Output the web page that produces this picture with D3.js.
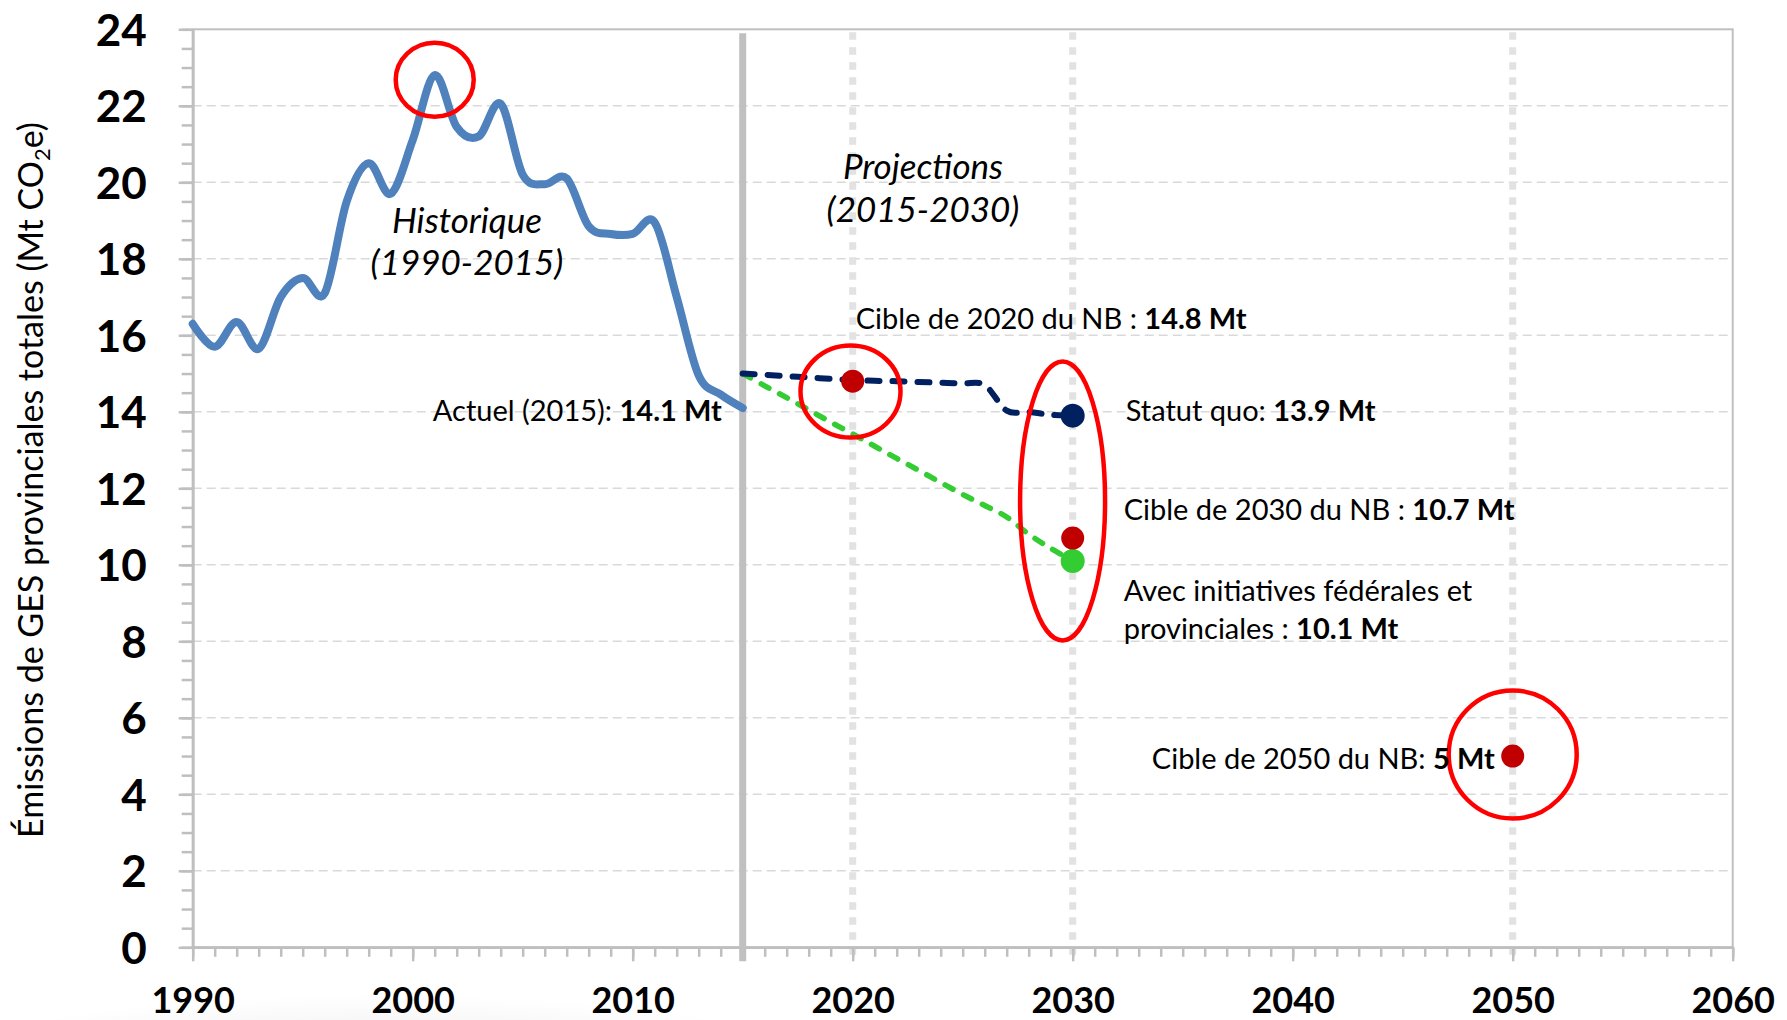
<!DOCTYPE html>
<html>
<head>
<meta charset="utf-8">
<script src="https://cdn.jsdelivr.net/npm/d3@7"></script>
<style>
	body { margin: 0; background: #fff; }
	svg { display: block; font-family: Lato, "Open Sans", sans-serif; }
</style>
</head>
<body>
<script>
// historique 1990-2015 (Mt CO2e)
var histYears = [1990, 1991, 1992, 1993, 1994, 1995, 1996, 1997, 1998, 1999, 2000, 2001, 2002,
	2003, 2004, 2005, 2006, 2007, 2008, 2009, 2010, 2011, 2012, 2013, 2014, 2015];
var histValues = [16.3, 15.7, 16.35, 15.65, 17.0, 17.5, 17.1, 19.5, 20.5, 19.7, 21.1, 22.8, 21.45,
	21.2, 22.05, 20.2, 19.95, 20.1, 18.85, 18.65, 18.65, 18.95, 17.0, 14.95, 14.45, 14.1];

// projections 2015-2030
var projYears = [2015, 2016, 2017, 2018, 2019, 2020, 2021, 2022, 2023, 2024, 2025, 2026, 2027, 2028, 2029, 2030];
var statutQuo = [15.0, 14.97, 14.93, 14.9, 14.86, 14.83, 14.81, 14.8, 14.78, 14.76, 14.74, 14.7, 14.03, 14.0, 13.92, 13.9];
var avecInitiatives = [15.0, 14.68, 14.37, 14.05, 13.73, 13.42, 13.1, 12.78, 12.47, 12.15, 11.84, 11.55, 11.25, 10.8, 10.43, 10.1];

// cibles du NB
var targetYears = [2020, 2030, 2050];
var targetValues = [14.8, 10.7, 5];

var yTicks = [0, 2, 4, 6, 8, 10, 12, 14, 16, 18, 20, 22, 24];
var xTicks = [1990, 2000, 2010, 2020, 2030, 2040, 2050, 2060];
var markerYears = [2020, 2030, 2050];

(function(d3) {
	var width = 1787;
	var height = 1020;
	var left = 192.7, right = 1732.7, top = 29.3, bottom = 947.3;
	var axisGray = "#bfbfbf";
	var font = "Lato, 'Open Sans', sans-serif";

	var svg = d3.select("body").append("svg")
		.attr("width", width)
		.attr("height", height);

	var x = d3.scaleLinear().domain([1990, 2060]).range([left, right]);
	var y = d3.scaleLinear().domain([0, 24]).range([bottom, top]);

	// faint shadow under the bottom-left labels
	var grad = svg.append("defs").append("radialGradient").attr("id", "shade");
	grad.append("stop").attr("offset", "0%").attr("stop-color", "#e2e2e2");
	grad.append("stop").attr("offset", "100%").attr("stop-color", "#ffffff");
	svg.append("ellipse")
		.attr("cx", 380).attr("cy", 1095)
		.attr("rx", 520).attr("ry", 100)
		.style("fill", "url(#shade)");

	// horizontal grid
	svg.append("g").selectAll("line")
		.data(yTicks.slice(1, -1))
		.enter().append("line")
		.attr("x1", left).attr("x2", right)
		.attr("y1", function(d) { return y(d); })
		.attr("y2", function(d) { return y(d); })
		.attr("stroke", "#d9d9d9")
		.attr("stroke-width", 1.6)
		.attr("stroke-dasharray", "9,5");

	// vertical dotted markers
	svg.append("g").selectAll("line")
		.data(markerYears)
		.enter().append("line")
		.attr("x1", function(d) { return x(d); })
		.attr("x2", function(d) { return x(d); })
		.attr("y1", y(24) + 3).attr("y2", bottom + 13)
		.attr("stroke", "#e2e2e2")
		.attr("stroke-width", 7)
		.attr("stroke-dasharray", "7.5,7.5");

	// plot border
	svg.append("rect")
		.attr("x", left).attr("y", top)
		.attr("width", right - left).attr("height", bottom - top)
		.attr("fill", "none")
		.attr("stroke", axisGray)
		.attr("stroke-width", 2);

	// y axis, minor then major
	var yMinor = d3.range(0, 24.01, 0.5);
	svg.append("g")
		.attr("transform", "translate(" + left + ",0)")
		.call(d3.axisLeft(y).tickValues(yMinor).tickSize(11).tickSizeOuter(0).tickFormat(""));
	var yAxis = svg.append("g")
		.attr("transform", "translate(" + left + ",0)")
		.call(d3.axisLeft(y).tickValues(yTicks).tickSize(14).tickSizeOuter(0).tickPadding(32));
	yAxis.attr("font-family", font).attr("font-size", 44);
	yAxis.selectAll("text")
		.attr("font-weight", "bold")
		.attr("fill", "#000")
		.attr("dy", "0.36em");

	// x axis, minor then major
	var xMinor = d3.range(1990, 2061, 1);
	svg.append("g")
		.attr("transform", "translate(0," + bottom + ")")
		.call(d3.axisBottom(x).tickValues(xMinor).tickSize(9.5).tickSizeOuter(0).tickFormat(""));
	var xAxis = svg.append("g")
		.attr("transform", "translate(0," + bottom + ")")
		.call(d3.axisBottom(x).tickValues(xTicks).tickSize(14).tickSizeOuter(0).tickFormat(d3.format("d")));
	xAxis.attr("font-family", font).attr("font-size", 36);
	xAxis.selectAll("text")
		.attr("y", 65.7)
		.attr("dy", null)
		.attr("font-weight", "bold")
		.attr("fill", "#000");

	svg.selectAll(".domain, .tick line")
		.attr("stroke", axisGray)
		.attr("stroke-width", 2.5);

	// separator 2015
	svg.append("line")
		.attr("x1", x(2015)).attr("x2", x(2015))
		.attr("y1", top + 4).attr("y2", bottom + 14)
		.attr("stroke", "#c0c0c0")
		.attr("stroke-width", 7);

	var line = d3.line()
		.x(function(d) { return x(d[0]); })
		.y(function(d) { return y(d[1]); })
		.curve(d3.curveCardinal.tension(0));

	svg.append("path")
		.datum(d3.zip(histYears, histValues))
		.attr("d", line)
		.attr("fill", "none")
		.attr("stroke", "#4f81bd")
		.attr("stroke-width", 8)
		.attr("stroke-linejoin", "round")
		.attr("stroke-linecap", "round");

	svg.append("path")
		.datum(d3.zip(projYears, avecInitiatives))
		.attr("d", line)
		.attr("fill", "none")
		.attr("stroke", "#33cc33")
		.attr("stroke-width", 5.5)
		.attr("stroke-linecap", "round")
		.attr("stroke-dasharray", "9,12");

	svg.append("path")
		.datum(d3.zip(projYears, statutQuo))
		.attr("d", line)
		.attr("fill", "none")
		.attr("stroke", "#002060")
		.attr("stroke-width", 6)
		.attr("stroke-linecap", "round")
		.attr("stroke-dasharray", "12,13");

	function dot(year, value, r, fill) {
		svg.append("circle")
			.attr("cx", x(year)).attr("cy", y(value))
			.attr("r", r)
			.style("fill", fill);
	}

	dot(projYears[projYears.length - 1], statutQuo[statutQuo.length - 1], 12, "#002060");
	dot(projYears[projYears.length - 1], avecInitiatives[avecInitiatives.length - 1], 12, "#33cc33");
	targetYears.forEach(function(yr, i) {
		dot(yr, targetValues[i], 11.5, "#c00000");
	});

	// red highlight rings
	function ring(year, value, rx, ry) {
		svg.append("ellipse")
			.attr("cx", x(year)).attr("cy", y(value))
			.attr("rx", rx).attr("ry", ry)
			.attr("fill", "none")
			.attr("stroke", "#ff0000")
			.attr("stroke-width", 4.5);
	}

	ring(2001, 22.68, 39, 37);
	ring(2019.9, 14.53, 50, 46);
	ring(2029.54, 11.67, 42.5, 139.5);
	ring(2050, 5.04, 64, 64);

	function label(px, py, parts, anchor, size) {
		var t = svg.append("text")
			.attr("x", px).attr("y", py)
			.attr("text-anchor", anchor || "start")
			.attr("font-size", size || 29)
			.attr("fill", "#000");
		parts.forEach(function(p) {
			t.append("tspan")
				.attr("font-weight", p[1] ? "bold" : null)
				.text(p[0]);
		});
		return t;
	}

	label(x(2020) + 3, y(14.8) - 52, [["Cible de 2020 du NB : ", 0], ["14.8 Mt", 1]]);
	label(x(2015) - 21, y(14.1) + 13, [["Actuel (2015): ", 0], ["14.1 Mt", 1]], "end");
	label(x(2030) + 53, y(13.9) + 5.5, [["Statut quo: ", 0], ["13.9 Mt", 1]]);
	label(x(2030) + 51, y(10.7) - 18, [["Cible de 2030 du NB : ", 0], ["10.7 Mt", 1]]);
	label(x(2030) + 51, y(10.1) + 40.5, [["Avec initiatives fédérales et", 0]]);
	label(x(2030) + 51, y(10.1) + 78.5, [["provinciales : ", 0], ["10.1 Mt", 1]]);
	label(x(2050) - 18, y(5) + 13, [["Cible de 2050 du NB: ", 0], ["5 Mt", 1]], "end");

	label(467, 233, [["Historique", 0]], "middle", 35).attr("font-style", "italic");
	label(467, 275, [["(1990-2015)", 0]], "middle", 35).attr("font-style", "italic");
	label(923, 179, [["Projections", 0]], "middle", 35).attr("font-style", "italic");
	label(923, 222, [["(2015-2030)", 0]], "middle", 35).attr("font-style", "italic");

	// y axis title
	var title = svg.append("text")
		.attr("transform", "translate(43,480) rotate(-90)")
		.attr("text-anchor", "middle")
		.attr("font-size", 34)
		.attr("fill", "#000");
	title.append("tspan").text("Émissions de GES provinciales totales (Mt CO");
	title.append("tspan").attr("font-size", 22).attr("dy", 7).text("2");
	title.append("tspan").attr("dy", -7).text("e)");

})(d3);
</script>
</body>
</html>
